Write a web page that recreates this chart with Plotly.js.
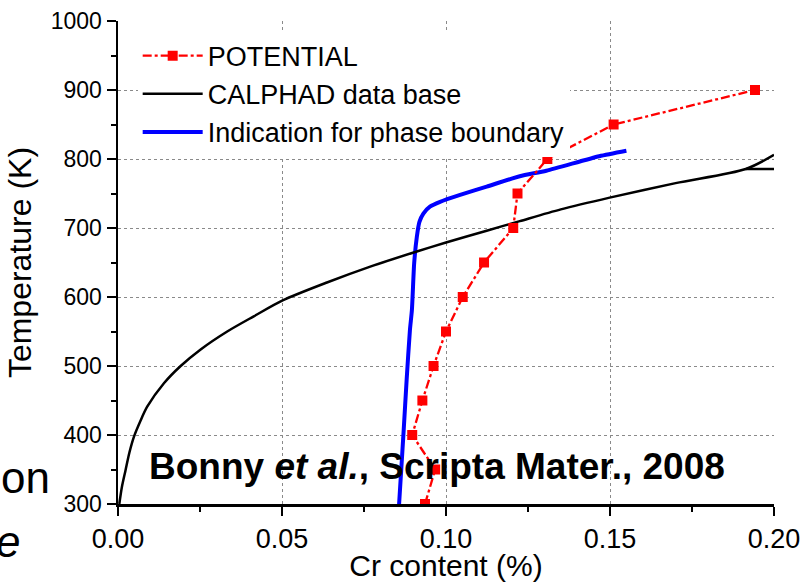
<!DOCTYPE html>
<html>
<head>
<meta charset="utf-8">
<script src="https://cdn.plot.ly/plotly-3.0.1.min.js"></script>
<style>html,body{margin:0;padding:0;background:#fff;}#chart{width:802px;height:582px;}</style>
</head>
<body>
<div id="chart"></div>
<script>
// POTENTIAL (red squares)
const potentialCr = [0.0936, 0.0967, 0.0897, 0.0928, 0.0962, 0.1000, 0.1051, 0.1116, 0.1205, 0.1218, 0.1309, 0.1511, 0.1942];
const potentialT  = [300, 350, 400, 450, 500, 550, 600, 650, 700, 750, 800, 850, 900];

// CALPHAD data base (black), null separates the horizontal branch
const calphadCr = [0.0004, 0.0012, 0.0023, 0.0035, 0.0049, 0.0068, 0.0089, 0.0140, 0.0191, 0.0252, 0.0333, 0.0414, 0.0502, 0.0637, 0.0769, 0.0911, 0.1000, 0.1124, 0.1225, 0.1350, 0.1499, 0.1700, 0.1914, 0.2000, null, 0.1914, 0.2000];
const calphadT  = [300, 325, 349, 375, 398, 420, 441, 475, 500, 524, 550, 572, 595, 621, 644, 666, 679, 696, 710, 727, 744, 765, 785.5, 806, null, 785.5, 785.5];

// Indication for phase boundary (blue)
const boundaryCr = [0.0857, 0.0871, 0.0880, 0.0890, 0.0896, 0.0903, 0.0911, 0.0919, 0.0931, 0.0951, 0.0982, 0.1043, 0.1124, 0.1225, 0.1306, 0.1467, 0.1550];
const boundaryT  = [300, 407, 480, 552, 581, 649, 687, 709, 721, 731, 738, 748, 760, 775, 783, 804, 812];

const xTickVals = [0, 0.05, 0.10, 0.15, 0.20];
const xTickText = ['0.00', '0.05', '0.10', '0.15', '0.20'];
const yTickVals = [300, 400, 500, 600, 700, 800, 900, 1000];

const FONT = 'Liberation Sans, Arial, sans-serif';

const traces = [
  {
    x: boundaryCr, y: boundaryT, type: 'scatter', mode: 'lines',
    name: 'Indication for phase boundary', legendrank: 3,
    line: {color: '#0000ff', width: 4, shape: 'spline', smoothing: 0.6}
  },
  {
    x: calphadCr, y: calphadT, type: 'scatter', mode: 'lines',
    name: 'CALPHAD data base', legendrank: 2, connectgaps: false,
    line: {color: '#000000', width: 2.5, shape: 'spline', smoothing: 0.8}
  },
  {
    x: potentialCr, y: potentialT, type: 'scatter', mode: 'lines+markers',
    name: 'POTENTIAL', legendrank: 1,
    line: {color: '#ff0000', width: 2.3, dash: 'dashdot'},
    marker: {symbol: 'square', size: 10, color: '#ff0000'}
  }
];

const axisCommon = {
  showline: true, linecolor: '#000', linewidth: 2.5,
  ticks: 'outside', ticklen: 9, tickwidth: 2, tickcolor: '#000',
  showgrid: true, gridcolor: '#8a8a8a', gridwidth: 1, griddash: 'dot',
  zeroline: false
};

const layout = {
  width: 802, height: 582,
  margin: {l: 118, r: 28, t: 21, b: 78},
  paper_bgcolor: '#fff', plot_bgcolor: '#fff',
  font: {family: FONT, color: '#000'},
  showlegend: true,
  legend: {
    x: 0.03, y: 0.978, xanchor: 'left', yanchor: 'top',
    bgcolor: '#fff', borderwidth: 0,
    font: {family: FONT, size: 27, color: '#000'},
    itemwidth: 60, traceorder: 'normal'
  },
  xaxis: Object.assign({}, axisCommon, {
    range: [0, 0.2], tickvals: xTickVals, ticktext: xTickText,
    tickfont: {family: FONT, size: 27},
    minor: {dtick: 0.025, ticks: 'outside', ticklen: 5, tickwidth: 2, tickcolor: '#000', showgrid: false},
    title: {text: 'Cr content (%)', font: {family: FONT, size: 30}, standoff: 8}
  }),
  yaxis: Object.assign({}, axisCommon, {
    range: [300, 1000], tickvals: yTickVals,
    tickfont: {family: FONT, size: 23},
    minor: {dtick: 50, ticks: 'outside', ticklen: 5, tickwidth: 2, tickcolor: '#000', showgrid: false},
    title: {text: 'Temperature (K)', font: {family: FONT, size: 32}, standoff: 10}
  }),
  xaxis2: {
    overlaying: 'x', side: 'top', anchor: 'y', range: [0, 0.2], tickvals: xTickVals,
    showticklabels: false, showline: true, linecolor: '#000', linewidth: 2.5,
    ticks: 'inside', ticklen: 9, tickwidth: 2, tickcolor: '#000', showgrid: false, zeroline: false,
    minor: {dtick: 0.025, ticks: 'inside', ticklen: 5, tickwidth: 2, tickcolor: '#000', showgrid: false}
  },
  yaxis2: {
    overlaying: 'y', side: 'right', anchor: 'x', range: [300, 1000], tickvals: yTickVals,
    showticklabels: false, showline: true, linecolor: '#000', linewidth: 2.5,
    ticks: 'inside', ticklen: 9, tickwidth: 2, tickcolor: '#000', showgrid: false, zeroline: false,
    minor: {dtick: 50, ticks: 'inside', ticklen: 5, tickwidth: 2, tickcolor: '#000', showgrid: false}
  },
  annotations: [
    {
      xref: 'x', yref: 'y', x: 0.0973, y: 355, showarrow: false,
      text: '<b>Bonny <i>et al.</i>, Scripta Mater., 2008</b>',
      font: {family: FONT, size: 37, color: '#000'}, xanchor: 'center', yanchor: 'middle'
    },
    {
      xref: 'paper', yref: 'paper', x: -0.1, y: 0.055, showarrow: false,
      text: 'on', font: {family: FONT, size: 44, color: '#000'}, xanchor: 'right', yanchor: 'middle'
    },
    {
      xref: 'paper', yref: 'paper', x: -0.146, y: -0.077, showarrow: false,
      text: '<i>e</i>', font: {family: FONT, size: 44, color: '#000'}, xanchor: 'right', yanchor: 'middle'
    }
  ]
};

Plotly.newPlot('chart', traces, layout, {displayModeBar: false, staticPlot: true});
</script>
</body>
</html>
